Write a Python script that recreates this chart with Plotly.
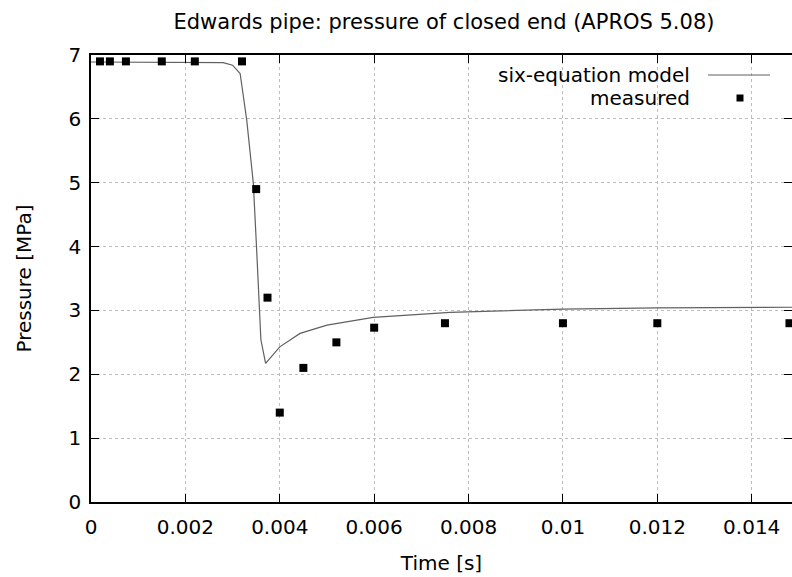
import plotly.graph_objects as go

# Model curve (six-equation model)
model_t = [0.0, 0.0025, 0.0028, 0.0030, 0.00316, 0.0033, 0.00337, 0.00344, 0.00351,
           0.00356, 0.0036, 0.0037, 0.0038, 0.0039, 0.0040, 0.00443, 0.0050, 0.00598,
           0.00761, 0.010, 0.012, 0.0149]
model_p = [6.89, 6.89, 6.88, 6.84, 6.71, 5.98, 5.51, 4.99, 3.95,
           3.01, 2.54, 2.17, 2.26, 2.35, 2.43, 2.64, 2.77, 2.89,
           2.97, 3.02, 3.04, 3.05]

# Measured points
meas_t = [0.00019, 0.0004, 0.00074, 0.0015, 0.0022, 0.0032, 0.0035, 0.00374, 0.0040,
          0.0045, 0.0052, 0.0060, 0.0075, 0.010, 0.012, 0.0148]
meas_p = [6.9, 6.9, 6.9, 6.9, 6.9, 6.9, 4.9, 3.2, 1.4,
          2.1, 2.5, 2.73, 2.8, 2.8, 2.8, 2.8]

x_ticks = [0, 0.002, 0.004, 0.006, 0.008, 0.01, 0.012, 0.014]
x_tick_text = ["0", "0.002", "0.004", "0.006", "0.008", "0.01", "0.012", "0.014"]
y_ticks = [0, 1, 2, 3, 4, 5, 6, 7]

FONT = "DejaVu Sans"

fig = go.Figure()
fig.add_trace(go.Scatter(x=model_t, y=model_p, mode="lines", name="six-equation model",
                         line=dict(color="#606060", width=1.2), showlegend=False))
fig.add_trace(go.Scatter(x=meas_t, y=meas_p, mode="markers", name="measured",
                         marker=dict(symbol="square", size=8, color="black"),
                         showlegend=False, cliponaxis=False))

W, H = 792, 577
L, R, T, B = 91, 0, 55, 75
pw, ph = W - L - R, H - T - B

def px(x):
    return (x - L) / pw

def py(y):
    return (H - B - y) / ph

axis_common = dict(
    showgrid=True, gridcolor="#bdbdbd", griddash="dot", gridwidth=1,
    ticks="inside", ticklen=8, tickcolor="black", tickwidth=1,
    showline=True, linecolor="black", linewidth=1.5,
    zeroline=False, tickfont=dict(family=FONT, size=20, color="black"),
)

fig.update_layout(
    width=W, height=H,
    margin=dict(l=L, r=R, t=T, b=B, autoexpand=False),
    plot_bgcolor="white", paper_bgcolor="white",
    font=dict(family=FONT, color="black"),
    title=dict(text="Edwards pipe: pressure of closed end (APROS 5.08)",
               font=dict(family=FONT, size=21, color="black"),
               x=px(444), xref="paper", xanchor="center",
               y=1 - 22 / H, yref="container", yanchor="middle"),
    xaxis=dict(range=[0, (W - L) / 47193.0], tickvals=x_ticks, ticktext=x_tick_text,
               mirror="ticks", ticklabelstandoff=6,
               title=dict(text="Time [s]", font=dict(family=FONT, size=20), standoff=18),
               **axis_common),
    yaxis=dict(range=[0, 7], tickvals=y_ticks, mirror="ticks", ticklabelstandoff=4,
               title=dict(text="Pressure [MPa]", font=dict(family=FONT, size=20), standoff=32),
               **axis_common),
)

# Custom gnuplot-style legend (text left of the sample)
fig.add_annotation(x=px(692), y=py(75), xref="paper", yref="paper", text="six-equation model",
                   showarrow=False, xanchor="right", yanchor="middle",
                   font=dict(family=FONT, size=20, color="black"))
fig.add_annotation(x=px(692), y=py(98), xref="paper", yref="paper", text="measured",
                   showarrow=False, xanchor="right", yanchor="middle",
                   font=dict(family=FONT, size=20, color="black"))
fig.add_shape(type="line", xref="paper", yref="paper", x0=px(708), x1=px(770),
              y0=py(75), y1=py(75), line=dict(color="#606060", width=1.2))
fig.add_shape(type="rect", xref="paper", yref="paper", x0=px(736.5), x1=px(743.5),
              y0=py(101.5), y1=py(94.5), line=dict(width=0), fillcolor="black")

fig.write_html("out.html", config={"displayModeBar": False},
               post_script="document.body.style.margin='0';")
